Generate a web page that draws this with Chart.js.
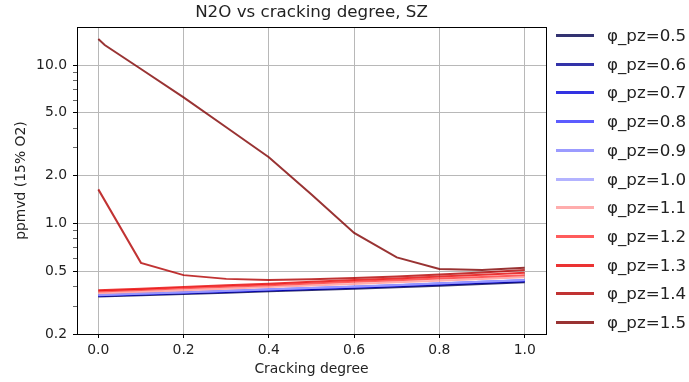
<!DOCTYPE html>
<html lang="en">
<head>
<meta charset="UTF-8">
<title>N2O vs cracking degree, SZ</title>
<script src="https://cdn.jsdelivr.net/npm/chart.js"></script>
<style>
  html, body { margin: 0; padding: 0; background: #fff; }
  #wrap { position: relative; width: 689px; height: 382px; }
  #legend { position: absolute; left: 556px; top: 0; font-family: "DejaVu Sans", sans-serif; font-size: 16.7px; color: #222; }
  .row { position: absolute; left: 0; height: 20px; white-space: nowrap; }
  .swatch { position: absolute; left: 0; top: 9px; width: 38px; height: 3px; }
  .lbl { position: absolute; left: 51px; top: 0; line-height: 20px; }
</style>
</head>
<body>
<div id="wrap">
  <canvas id="chart" width="689" height="382"></canvas>
  <div id="legend"></div>
</div>
<script>
// cracking degree (x)
const crack = [0, 0.1, 0.2, 0.3, 0.4, 0.5, 0.6, 0.7, 0.8, 0.9, 1.0];
// phi = 1.5 has an extra point right after 0
const crack15 = [0, 0.015, 0.1, 0.2, 0.3, 0.4, 0.5, 0.6, 0.7, 0.8, 0.9, 1.0];

const phiLabels = ['φ_pz=0.5', 'φ_pz=0.6', 'φ_pz=0.7', 'φ_pz=0.8', 'φ_pz=0.9', 'φ_pz=1.0',
                   'φ_pz=1.1', 'φ_pz=1.2', 'φ_pz=1.3', 'φ_pz=1.4', 'φ_pz=1.5'];

// N2O, ppmvd (15% O2)
const n2o05 = [0.345, 0.352, 0.358, 0.365, 0.372, 0.379, 0.387, 0.395, 0.404, 0.414, 0.424];
const n2o06 = [0.348, 0.355, 0.362, 0.369, 0.376, 0.384, 0.392, 0.401, 0.410, 0.420, 0.430];
const n2o07 = [0.350, 0.357, 0.364, 0.371, 0.379, 0.387, 0.395, 0.404, 0.414, 0.424, 0.434];
const n2o08 = [0.352, 0.359, 0.366, 0.374, 0.382, 0.390, 0.398, 0.407, 0.417, 0.427, 0.437];
const n2o09 = [0.353, 0.360, 0.367, 0.375, 0.383, 0.391, 0.399, 0.408, 0.418, 0.428, 0.438];
const n2o10 = [0.352, 0.359, 0.366, 0.374, 0.382, 0.390, 0.398, 0.407, 0.417, 0.427, 0.437];
const n2o11 = [0.362, 0.370, 0.378, 0.387, 0.396, 0.405, 0.414, 0.424, 0.434, 0.445, 0.456];
const n2o12 = [0.371, 0.380, 0.389, 0.398, 0.407, 0.417, 0.427, 0.437, 0.448, 0.459, 0.471];
const n2o13 = [0.378, 0.387, 0.397, 0.406, 0.416, 0.427, 0.438, 0.449, 0.461, 0.474, 0.487];
const n2o14 = [1.64, 0.563, 0.471, 0.446, 0.438, 0.443, 0.451, 0.462, 0.475, 0.490, 0.508];
const n2o15 = [14.6, 13.4, 9.45, 6.25, 4.05, 2.62, 1.52, 0.87, 0.61, 0.515, 0.508, 0.525];

const seriesY = [n2o05, n2o06, n2o07, n2o08, n2o09, n2o10, n2o11, n2o12, n2o13, n2o14, n2o15];
const seriesX = [crack, crack, crack, crack, crack, crack, crack, crack, crack, crack, crack15];

const colors = [
  'rgba(0, 0, 77, 0.8)', 'rgba(0, 0, 148, 0.8)', 'rgba(0, 0, 219, 0.8)', 'rgba(51, 51, 255, 0.8)',
  'rgba(130, 130, 255, 0.8)', 'rgba(160, 160, 255, 0.8)', 'rgba(255, 153, 153, 0.8)',
  'rgba(255, 51, 51, 0.8)', 'rgba(230, 0, 0, 0.8)', 'rgba(178, 0, 0, 0.8)', 'rgba(128, 0, 0, 0.8)'
];

const xTicks = [0, 0.2, 0.4, 0.6, 0.8, 1.0];
const yMajor = [0.2, 0.5, 1, 2, 5, 10];
const yMinor = [0.3, 0.4, 0.6, 0.7, 0.8, 0.9, 3, 4, 6, 7, 8, 9];

const datasets = seriesY.map((ys, i) => ({
  label: phiLabels[i],
  data: ys.map((y, j) => ({ x: seriesX[i][j], y: y })),
  borderColor: colors[i],
  backgroundColor: colors[i],
  borderWidth: 2,
  pointRadius: 0,
  tension: 0,
  fill: false,
  order: seriesY.length - i
}));

const font = { family: '"DejaVu Sans", sans-serif', size: 13.9 };
const isMajor = v => yMajor.some(m => Math.abs(m - v) < 1e-9);

// frame round the plot area
const frame = {
  id: 'frame',
  afterDraw(chart) {
    const a = chart.chartArea, ctx = chart.ctx;
    ctx.save();
    ctx.strokeStyle = '#000';
    ctx.lineWidth = 1;
    ctx.strokeRect(Math.round(a.left) + 0.5, Math.round(a.top) + 0.5,
                   Math.round(a.right - a.left), Math.round(a.bottom - a.top));
    ctx.restore();
  }
};

new Chart(document.getElementById('chart'), {
  type: 'line',
  data: { datasets: datasets },
  options: {
    responsive: false,
    animation: false,
    layout: { padding: { top: 0, right: 143, left: 0, bottom: 0 } },
    plugins: {
      legend: { display: false },
      tooltip: { enabled: false },
      title: {
        display: true,
        fullSize: false,
        text: 'N2O vs cracking degree, SZ',
        color: '#222',
        font: { family: '"DejaVu Sans", sans-serif', size: 16.7, weight: 'normal' },
        padding: { top: 3, bottom: 4 }
      }
    },
    scales: {
      x: {
        type: 'linear',
        min: -0.05,
        max: 1.05,
        afterBuildTicks: s => { s.ticks = xTicks.map(v => ({ value: v })); },
        afterFit: s => { s.height = 48; },
        ticks: {
          font: font, color: '#222', padding: 4, maxRotation: 0, autoSkip: false,
          callback: v => v.toFixed(1)
        },
        grid: { color: '#b8b8b8', lineWidth: 1, tickColor: '#000', tickLength: 4 },
        border: { display: false },
        title: { display: true, text: 'Cracking degree', font: font, color: '#222', padding: { top: 0, bottom: 4 } }
      },
      y: {
        type: 'logarithmic',
        min: 0.2,
        max: 17.4,
        afterBuildTicks: s => {
          s.ticks = yMajor.concat(yMinor).sort((a, b) => a - b).map(v => ({ value: v, major: isMajor(v) }));
        },
        afterFit: s => { s.width = 77; },
        ticks: {
          font: font, color: '#222', padding: 6, autoSkip: false,
          callback: v => isMajor(v) ? v.toFixed(1) : ''
        },
        grid: {
          color: c => (c.tick && isMajor(c.tick.value)) ? '#b8b8b8' : 'rgba(0,0,0,0)',
          lineWidth: 1,
          tickColor: '#000',
          tickWidth: c => (c.tick && isMajor(c.tick.value)) ? 1 : 0.6,
          tickLength: 4
        },
        border: { display: false },
        title: { display: true, text: 'ppmvd (15% O2)', font: font, color: '#222', padding: { top: 13, bottom: 0 } }
      }
    }
  },
  plugins: [frame]
});

// legend, one row per series
const legend = document.getElementById('legend');
phiLabels.forEach((name, i) => {
  const row = document.createElement('div');
  row.className = 'row';
  row.style.top = Math.round(25 + i * 28.7) + 'px';
  const sw = document.createElement('div');
  sw.className = 'swatch';
  sw.style.background = colors[i];
  const lb = document.createElement('span');
  lb.className = 'lbl';
  lb.textContent = name;
  row.appendChild(sw);
  row.appendChild(lb);
  legend.appendChild(row);
});
</script>
</body>
</html>
